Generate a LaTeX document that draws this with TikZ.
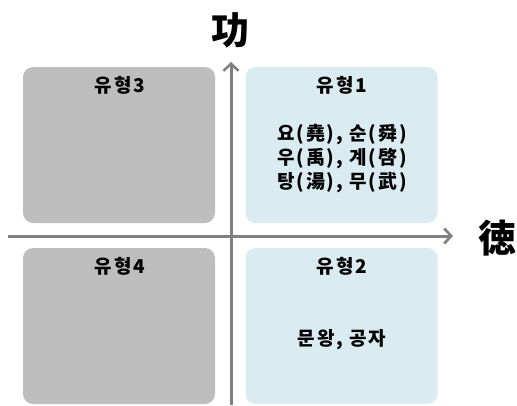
\documentclass[tikz,border=0pt]{standalone}
\usepackage{fontspec}
\newfontfamily\kr{Noto Sans CJK KR}[LetterSpace=10]
\newfontfamily\krbig{Noto Sans CJK KR}
\usetikzlibrary{arrows.meta}
\definecolor{boxgray}{HTML}{BEBEBE}
\definecolor{boxblue}{HTML}{DAECF2}
\definecolor{axisgray}{HTML}{808080}
\begin{document}
\begin{tikzpicture}[x=1pt,y=-1pt,
  quad/.style={rounded corners=10pt, inner sep=0pt, outer sep=0pt, minimum width=192pt, minimum height=156pt},
  lbl/.style={font=\kr\bfseries\fontsize{19}{24}\selectfont, inner sep=0pt, text=black, align=center},
  big/.style={font=\krbig\bfseries\fontsize{38}{42}\selectfont, inner sep=0pt, text=black},
  ax/.style={draw=axisgray, line width=3pt, -{Straight Barb[length=7pt,width=15pt,line width=2.6pt]}}]
\useasboundingbox (0,0) rectangle (517,405);
% quadrants
\node[quad, fill=boxgray] (q3) at (119,145) {};
\node[quad, fill=boxblue] (q1) at (341.5,145) {};
\node[quad, fill=boxgray] (q4) at (119,326) {};
\node[quad, fill=boxblue] (q2) at (341.5,326) {};
% axes
\coordinate (vbot) at (231,405);
\coordinate (vtop) at (231,62);
\coordinate (hl) at (8,236);
\coordinate (hr) at (453,236);
\draw[ax] (vbot) -- (vtop);
\draw[ax] (hl) -- (hr);
% labels
\node[lbl] (t3) at (120,85) {유형3};
\node[lbl] (t1) at (342,85) {유형1};
\node[lbl] (n1) at (342,159) {요(堯), 순(舜)\\우(禹), 계(啓)\\탕(湯), 무(武)};
\node[lbl] (t4) at (120,266) {유형4};
\node[lbl] (t2) at (342,266) {유형2};
\node[lbl] (n2) at (342,340) {문왕, 공자};
\node[big] (gong) at (230,30) {功};
\node[big] (deok) at (497,238) {徳};
\end{tikzpicture}
\end{document}
